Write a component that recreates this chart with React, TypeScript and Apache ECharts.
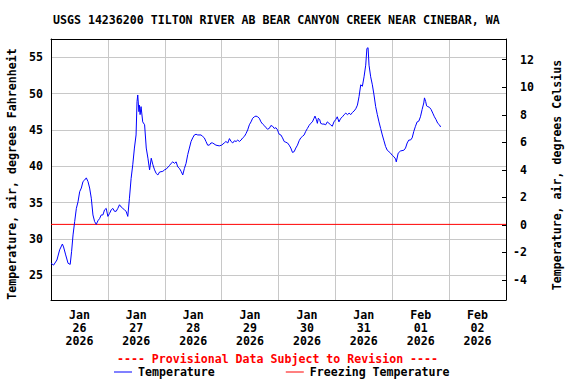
import React, { useEffect, useRef } from "react";
import * as echarts from "echarts";

const TITLE = "USGS 14236200 TILTON RIVER AB BEAR CANYON CREEK NEAR CINEBAR, WA";

// hours since Jan 26 2026 00:00
const hours = [
  0, 1.1, 2.5, 3.65, 4.8, 5.3, 6.2, 7.2, 8.1, 8.7, 9.3, 10.0, 10.7, 11.4, 12.1, 12.8, 13.5, 14.2, 14.9, 15.6,
  16.3, 17.0, 17.7, 18.4, 19.1, 19.8, 20.5, 21.2, 21.9, 22.6, 23.3, 24.0, 24.7, 25.4, 26.1, 26.8, 27.5, 28.2,
  28.9, 29.6, 30.3, 31.0, 31.7, 32.4, 33.1, 33.8, 34.5, 35.2, 35.9, 36.3, 36.6, 37.1, 37.3, 37.6, 38.0, 38.7,
  39.5, 40.2, 40.9, 41.6, 42.3, 43.0, 43.7, 44.4, 45.1, 45.8, 47.2, 47.9, 48.6, 50.0, 50.7, 51.4, 52.1, 52.8,
  53.5, 54.2, 54.9, 55.6, 56.3, 57.0, 57.7, 58.4, 59.1, 59.8, 60.5, 61.2, 61.9, 63.3, 64.0, 64.7, 65.4, 66.1,
  66.8, 67.5, 68.2, 69.6, 71.0, 72.0, 73.1, 73.8, 74.6, 75.3, 76.0, 76.7, 77.4, 78.1, 78.8, 79.5, 80.2, 80.9,
  81.6, 82.3, 83.0, 83.7, 84.4, 85.1, 85.8, 86.5, 87.2, 87.9, 88.6, 89.3, 90.0, 90.7, 91.4, 92.1, 92.8, 93.5,
  94.2, 94.9, 95.6, 96.0,
  96.3, 97.0, 97.7, 98.4, 99.1, 99.8, 100.5, 101.2, 101.9, 102.6, 103.3, 104.0, 104.7, 105.4, 106.1, 106.8,
  107.5, 108.2, 108.9, 109.6, 110.3, 111.0, 111.4, 112.0, 112.4, 112.8, 113.4, 113.8, 114.5, 115.2, 115.9,
  116.6, 117.3, 118.0, 118.7, 119.4, 120.1, 120.8, 121.5, 122.3, 123.0, 123.7, 124.4, 125.1, 125.8, 126.5,
  127.2, 127.9, 128.6, 129.3, 130.0, 130.7, 131.4, 132.1, 132.8, 133.3, 133.8, 134.2, 134.9, 135.6, 136.3,
  137.0, 137.7, 138.4, 139.1, 139.8, 140.5, 141.2, 141.9, 142.6, 143.3, 144.0, 144.7, 145.4, 145.7, 146.5,
  147.5, 148.9, 149.6, 150.3, 151.0, 151.7, 152.4, 153.1, 153.8, 154.5, 155.2, 155.9, 156.6, 157.3, 157.6,
  158.1, 158.5, 159.0, 159.7, 160.4, 161.1, 161.8, 162.5, 163.2, 163.9, 164.4,
];

// air temperature, degrees Fahrenheit
const tempF = [
  26.65, 26.4, 27.1, 28.5, 29.3, 28.9, 27.8, 26.65, 26.5, 28.3, 30.55, 32.4, 34.2, 35.1, 36.5, 37.0, 37.9, 38.1,
  38.4, 37.9, 37.0, 35.6, 33.3, 32.4, 32.0, 32.5, 32.8, 33.3, 33.3, 34.0, 34.2, 33.1, 33.5, 34.0, 34.2, 33.8,
  33.8, 34.2, 34.7, 34.4, 34.2, 34.0, 33.8, 33.1, 35.6, 38.3, 40.2, 42.5, 44.3, 48.9, 49.8, 47.5, 48.4, 47.1,
  48.2, 46.1, 45.7, 42.5, 41.1, 39.5, 41.1, 40.2, 39.5, 39.0, 38.8, 39.2, 39.3, 39.5, 39.6, 40.1, 40.4, 40.6,
  40.4, 40.6, 39.9, 39.7, 39.3, 38.8, 39.7, 40.4, 41.6, 42.5, 43.4, 43.9, 44.3, 44.4, 44.3, 44.3, 44.1, 43.9,
  43.4, 42.9, 42.9, 43.2, 43.2, 42.9, 42.8, 42.9, 43.2, 43.4, 43.2, 43.8, 43.4, 43.2, 43.5, 43.4, 43.6, 43.4,
  43.6, 43.9, 44.1, 44.5, 45.0, 45.7, 46.1, 46.6, 46.8, 46.9, 46.8, 46.6, 46.1, 45.8, 45.6, 45.3, 45.1, 45.2,
  45.6, 45.5, 45.2, 45.3, 45.0, 44.6,
  44.4, 44.3, 43.9, 43.4, 43.3, 43.2, 42.9, 42.5, 41.9, 42.0, 42.5, 42.9, 43.5, 43.9, 44.1, 44.3, 44.8, 45.2,
  45.6, 45.9, 46.1, 46.6, 46.9, 46.4, 45.9, 46.6, 46.4, 45.9, 45.8, 45.8, 45.7, 46.1, 45.9, 45.7, 45.5, 46.1,
  46.4, 46.8, 46.1, 46.6, 46.8, 47.1, 47.3, 47.1, 47.3, 47.1, 47.4, 47.6, 47.9, 48.4, 49.6, 51.2, 51.0, 52.3,
  53.9, 56.2, 56.3, 53.9, 52.3, 51.2, 49.8, 48.2, 47.1, 46.1, 45.2, 44.3, 43.5, 42.7, 42.2, 42.0, 41.8, 41.5,
  41.3, 41.0, 40.6, 41.8, 42.1, 42.2, 42.5, 43.2, 43.6, 43.6, 43.9, 44.8, 45.5, 46.1, 46.2, 46.8, 47.8, 48.7,
  49.4, 48.9, 48.3, 48.2, 48.1, 47.8, 47.3, 46.8, 46.4, 45.9, 45.7, 45.4,
];

const FREEZING_F = 32;
const tickMonths = ["Jan", "Jan", "Jan", "Jan", "Jan", "Jan", "Feb", "Feb"];
const tickDays = ["26", "27", "28", "29", "30", "31", "01", "02"];
const tickYears = ["2026", "2026", "2026", "2026", "2026", "2026", "2026", "2026"];

const FONT = "'DejaVu Sans Mono', monospace";
const FS = 11.6;

export default function App() {
  const ref = useRef<HTMLDivElement>(null);
  useEffect(() => {
    if (!ref.current) return;
    const chart = echarts.init(ref.current, null, { renderer: "svg" });
    const labels = tickMonths.map((m, i) => `${m}\n${tickDays[i]}\n${tickYears[i]}`);
    const txt = { fontFamily: FONT, fontSize: FS, fontWeight: "bold" as const, color: "#000" };
    chart.setOption({
      animation: false,
      backgroundColor: "#fff",
      title: {
        text: TITLE,
        left: 53,
        top: 13,
        padding: 0,
        textStyle: { ...txt, lineHeight: 14 },
      },
      grid: { left: 51, top: 39, width: 455, height: 261, containLabel: false },
      legend: {
        left: 114,
        top: 366,
        padding: 0,
        itemWidth: 18,
        itemHeight: 1,
        itemGap: 71,
        icon: "rect",
        textStyle: { ...txt, padding: [0, 0, 0, 1] },
        data: ["Temperature", "Freezing Temperature"],
      },
      xAxis: [
        {
          type: "value",
          position: "top",
          min: 0,
          max: 192,
          interval: 24,
          axisLine: { show: true, onZero: false, lineStyle: { color: "#000", width: 1 } },
          axisTick: { show: false },
          axisLabel: { show: false },
          splitLine: {
            show: true,
            showMinLine: false,
            showMaxLine: false,
            lineStyle: { color: "#c8c8c8", width: 1 },
          },
        },
        {
          type: "category",
          position: "bottom",
          data: labels,
          boundaryGap: true,
          axisLine: { show: true, onZero: false, lineStyle: { color: "#000", width: 1 } },
          axisTick: { show: false },
          splitLine: { show: false },
          axisLabel: { ...txt, interval: 0, lineHeight: 13.3, margin: 8 },
        },
      ],
      yAxis: [
        {
          type: "value",
          position: "left",
          min: 21.6,
          max: 57.5,
          splitNumber: 7,
          minInterval: 5,
          maxInterval: 5,
          axisLine: { show: true, onZero: false, lineStyle: { color: "#000", width: 1 } },
          axisTick: { show: false },
          axisLabel: { ...txt, margin: 8, showMinLabel: false, showMaxLabel: false },
          splitLine: {
            show: true,
            showMinLine: false,
            showMaxLine: false,
            lineStyle: { color: "#c8c8c8", width: 1 },
          },
        },
        {
          type: "value",
          position: "right",
          min: -5.45,
          max: 13.5,
          splitNumber: 9,
          minInterval: 2,
          maxInterval: 2,
          axisLine: { show: true, onZero: false, lineStyle: { color: "#000", width: 1 } },
          axisTick: { show: true, inside: true, length: 4, lineStyle: { color: "#000" } },
          axisLabel: {
            ...txt,
            margin: 7,
            showMinLabel: false,
            showMaxLabel: false,
            formatter: (v: number) => (v >= 0 ? "\u00a0" + v : String(v)),
          },
          splitLine: { show: false },
        },
      ],
      graphic: [
        {
          type: "text",
          x: 12,
          y: 174,
          rotation: Math.PI / 2,
          style: {
            text: "Temperature, air, degrees Fahrenheit",
            font: `bold ${FS}px ${FONT}`,
            fill: "#000",
            textAlign: "center",
            textVerticalAlign: "middle",
          },
        },
        {
          type: "text",
          x: 557,
          y: 175,
          rotation: Math.PI / 2,
          style: {
            text: "Temperature, air, degrees Celsius",
            font: `bold ${FS}px ${FONT}`,
            fill: "#000",
            textAlign: "center",
            textVerticalAlign: "middle",
          },
        },
        {
          type: "text",
          x: 277.5,
          y: 359,
          style: {
            text: "---- Provisional Data Subject to Revision ----",
            font: `bold ${FS}px ${FONT}`,
            fill: "#ff0000",
            textAlign: "center",
            textVerticalAlign: "middle",
          },
        },
      ],
      series: [
        {
          name: "Temperature",
          type: "line",
          xAxisIndex: 0,
          yAxisIndex: 0,
          showSymbol: false,
          symbol: "none",
          color: "#0000ff",
          lineStyle: { color: "#0000ff", width: 1 },
          data: hours.map((h, i) => [h, tempF[i]]),
          z: 3,
        },
        {
          name: "Freezing Temperature",
          type: "line",
          xAxisIndex: 0,
          yAxisIndex: 0,
          showSymbol: false,
          symbol: "none",
          color: "#ff0000",
          lineStyle: { color: "#ff0000", width: 1 },
          data: [
            [0, FREEZING_F],
            [192, FREEZING_F],
          ],
          z: 2,
        },
      ],
    });
    return () => chart.dispose();
  }, []);
  return <div ref={ref} style={{ width: 576, height: 384, position: "absolute", left: 0, top: 0 }} />;
}
